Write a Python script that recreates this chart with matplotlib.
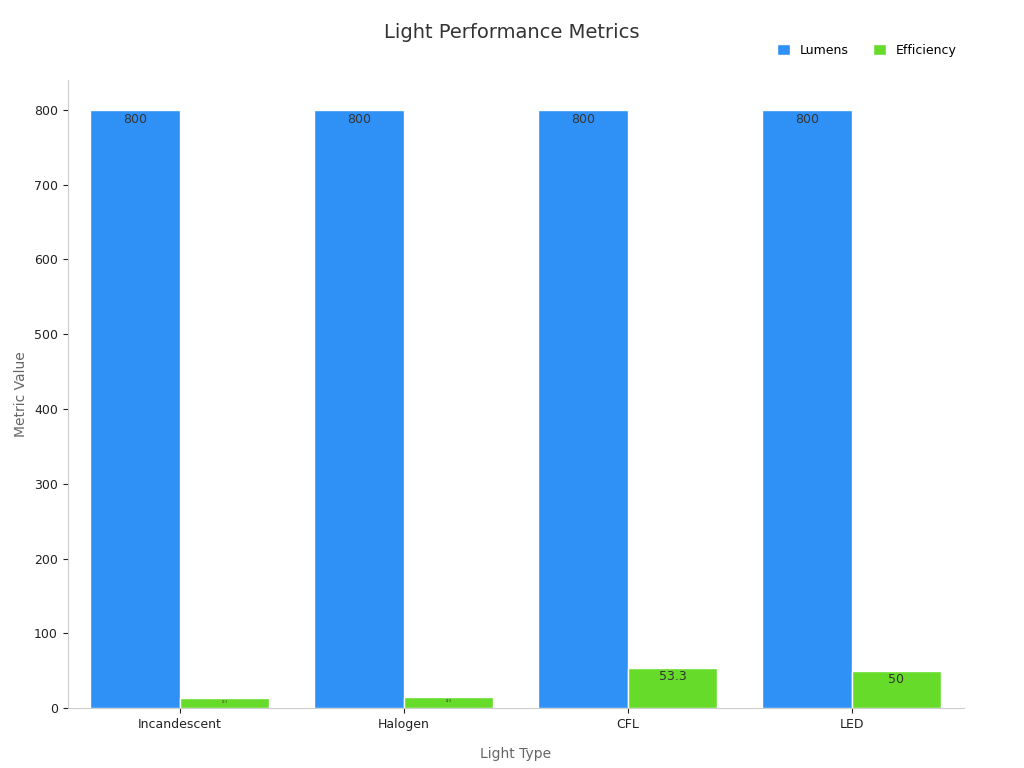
import numpy as np
import matplotlib.pyplot as plt

light_types = ["Incandescent", "Halogen", "CFL", "LED"]
lumens = [800, 800, 800, 800]
efficiency = [13.3, 14.8, 53.3, 50]
eff_labels = ["13.3", "14.8", "53.3", "50"]

fig = plt.figure(figsize=(10.24, 7.68), dpi=100)
ax = fig.add_axes([0.066, 0.078, 0.875, 0.818])

x = np.arange(len(light_types))
w = 0.4
b1 = ax.bar(x - w/2, lumens, w, color="#2f91f5", edgecolor="#ffffff", linewidth=1, label="Lumens")
b2 = ax.bar(x + w/2, efficiency, w, color="#66db2a", edgecolor="#ffffff", linewidth=1, label="Efficiency")

for r, v in zip(b1, lumens):
    ax.text(r.get_x() + r.get_width()/2, v - 4, str(v), ha="center", va="top", fontsize=9, color="#333333")
for r, v, t in zip(b2, efficiency, eff_labels):
    fs = 9 if v > 30 else 2
    ax.text(r.get_x() + r.get_width()/2, v - 3, t, ha="center", va="top", fontsize=fs, color="#333333")

ax.set_xlim(-0.5, 3.5)
ax.set_ylim(0, 840)
ax.set_yticks(range(0, 801, 100))
ax.set_xticks(x)
ax.set_xticklabels(light_types)
ax.tick_params(labelsize=9, colors="#222222")
for s in ["top", "right"]:
    ax.spines[s].set_visible(False)
ax.spines["left"].set_color("#cccccc")
ax.spines["bottom"].set_color("#cccccc")
ax.set_xlabel("Light Type", fontsize=10, color="#666666", labelpad=12)
ax.set_ylabel("Metric Value", fontsize=10, color="#666666")
fig.suptitle("Light Performance Metrics", fontsize=14, color="#333333", y=0.97)
ax.legend(loc="upper right", bbox_to_anchor=(1.005, 1.075), ncol=2, frameon=False, fontsize=9,
          handlelength=1.0, handleheight=1.0, columnspacing=2)

fig.savefig("out.png")
